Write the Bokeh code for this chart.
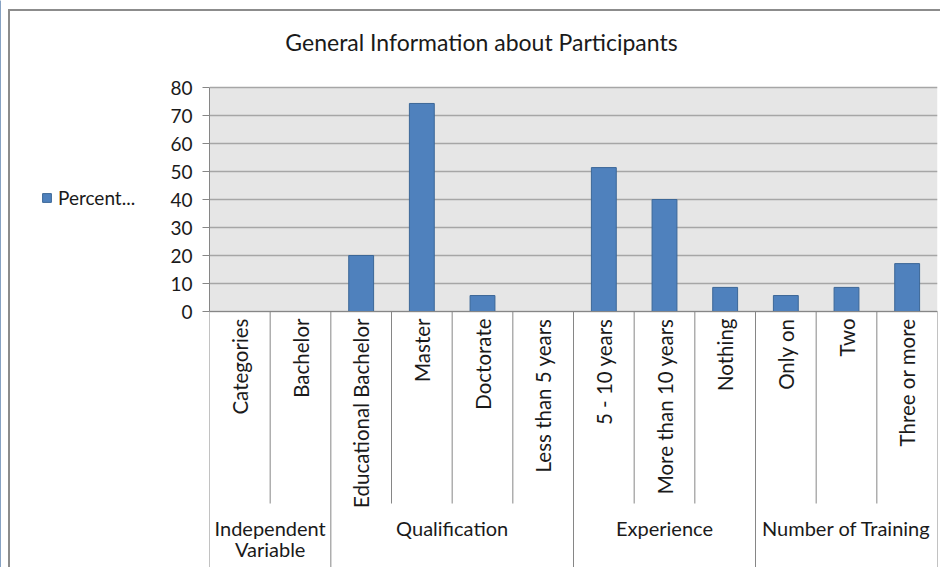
import math
from bokeh.plotting import figure
from bokeh.layouts import row
from bokeh.models import (FactorRange, Range1d, FixedTicker, BoxAnnotation, Label,
                          ColumnDataSource, Legend, LegendItem)
from bokeh.core.properties import value
from bokeh.embed import file_html
from bokeh.resources import INLINE

# ---------------- data ----------------
title_text = "General Information about Participants"
series_name = "Percent..."
categories = ["Categories", "Bachelor", "Educational Bachelor", "Master", "Doctorate",
              "Less than 5 years", "5 - 10 years", "More than 10 years", "Nothing",
              "Only on", "Two", "Three or more"]
percent = [None, None, 20.0, 74.3, 5.7, None, 51.4, 40.0, 8.6, 5.7, 8.6, 17.1]
groups = ["Independent\nVariable", "Qualification", "Experience", "Number of Training"]
group_sizes = [2, 4, 3, 3]
y_ticks = [0, 10, 20, 30, 40, 50, 60, 70, 80]

# ---------------- layout constants ----------------
FONT = "Lato"
W, H = 940, 567
LW = 150                    # width of the legend column
PLOT_L = 209                # page x of plot-area left edge
PLOT_R = 937                # page x of plot-area right edge
PLOT_T = 87                 # page y of value 80
ZERO_Y = 311                # page y of value 0
y_max = y_ticks[-1]
px_per = (ZERO_Y - PLOT_T) / y_max
y_end = ZERO_Y / px_per
y_start = -(H - ZERO_Y) / px_per
short_sep = -192 / px_per
GRID = "#a6a6a6"
AXIS = "#868686"
TXT = "#1a1a1a"
BORDER = "#8c8c8c"
BAR_FILL = "#4f81bd"
BAR_LINE = "#3c6797"

page_style = {
    "background-color": "white",
    "background-image": f"linear-gradient({BORDER},{BORDER}), linear-gradient({BORDER},{BORDER})",
    "background-size": "2px 100%, 100% 2px",
    "background-position": "8px 10px, 8px 9px",
    "background-repeat": "no-repeat",
}

# ---------------- main chart ----------------
p = figure(width=W - LW, height=H, x_range=FactorRange(factors=categories, range_padding=0),
           y_range=Range1d(y_start, y_end), output_backend="svg", toolbar_location=None,
           min_border_left=PLOT_L - LW, min_border_right=W - PLOT_R, min_border_top=0,
           min_border_bottom=0)
p.outline_line_color = None
p.background_fill_color = None
p.border_fill_color = None

# grey plot-area background only from 0 to 80
bg = BoxAnnotation(bottom=0, top=y_max, fill_color="#e6e6e6", fill_alpha=1,
                   line_color=None, level="underlay")
p.center = [bg] + list(p.center)

p.xgrid.visible = False
p.xaxis.visible = False
p.ygrid.ticker = FixedTicker(ticks=y_ticks)
p.ygrid.bounds = (0, y_max)
p.ygrid.grid_line_color = GRID
p.ygrid.grid_line_width = 1.5

ya = p.yaxis[0]
ya.ticker = FixedTicker(ticks=y_ticks)
ya.bounds = (0, y_max)
ya.axis_line_color = AXIS
ya.major_tick_line_color = AXIS
ya.major_tick_out = 7
ya.major_tick_in = 0
ya.minor_tick_line_color = None
ya.major_label_standoff = 10
ya.major_label_text_font = FONT
ya.major_label_text_font_size = "19px"
ya.major_label_text_color = TXT

# bars
vals = [float("nan") if v is None else v for v in percent]
src = ColumnDataSource(dict(cat=categories, val=vals))
bars = p.vbar(x="cat", top="val", bottom=0, width=0.41, source=src,
              fill_color=BAR_FILL, line_color=BAR_LINE, line_width=1)

# axis line at zero
p.segment(x0=[0], x1=[len(categories)], y0=[0], y1=[0], line_color=AXIS, line_width=1.2)

# separators
bounds_group = [0]
for s in group_sizes:
    bounds_group.append(bounds_group[-1] + s)
short_x = [i for i in range(len(categories) + 1) if i not in bounds_group]
p.segment(x0=short_x, x1=short_x, y0=[0] * len(short_x), y1=[short_sep] * len(short_x),
          line_color=AXIS, line_width=1)
p.segment(x0=bounds_group, x1=bounds_group, y0=[0] * len(bounds_group),
          y1=[y_start] * len(bounds_group), line_color=AXIS, line_width=1)

# category labels (rotated)
p.text(x=categories, y=[0] * len(categories), text=categories, angle=math.pi / 2,
       text_align="right", text_baseline="middle", y_offset=7,
       text_font=value(FONT), text_font_size="20.5px", text_color=TXT)

# group labels
centers = [bounds_group[i] + group_sizes[i] / 2 for i in range(len(groups))]
p.text(x=centers, y=[0] * len(groups), text=groups, text_align="center",
       text_baseline="top", y_offset=204, text_line_height=0.88,
       text_font=value(FONT), text_font_size="20px", text_color=TXT)

# title
p.add_layout(Label(x=481 - PLOT_L, y=H - 41, x_units="screen", y_units="screen",
                   text=title_text, text_align="center", text_baseline="middle",
                   text_font=FONT, text_font_size="23px", text_color=TXT))

# ---------------- legend column ----------------
lg = figure(width=LW, height=H, x_range=Range1d(0, 1), y_range=Range1d(0, 1),
            output_backend="svg", toolbar_location=None, min_border=0,
            x_axis_location=None, y_axis_location=None)
lg.grid.visible = False
lg.outline_line_color = None
lg.background_fill_color = None
lg.border_fill_color = None
swatch = lg.vbar(x=[-5], top=[1], width=0.1, fill_color=BAR_FILL, line_color=BAR_LINE)
legend = Legend(items=[LegendItem(label=series_name, renderers=[swatch])],
                location=(41, H - 209), padding=0, margin=0, glyph_width=11, glyph_height=11,
                label_standoff=6, label_text_font=FONT, label_text_font_size="19px",
                label_text_color=TXT, background_fill_alpha=0, border_line_color=None,
                label_height=20)
lg.add_layout(legend)

layout = row(lg, p, spacing=0, styles=page_style)
open("out.html", "w").write(file_html(layout, INLINE))
